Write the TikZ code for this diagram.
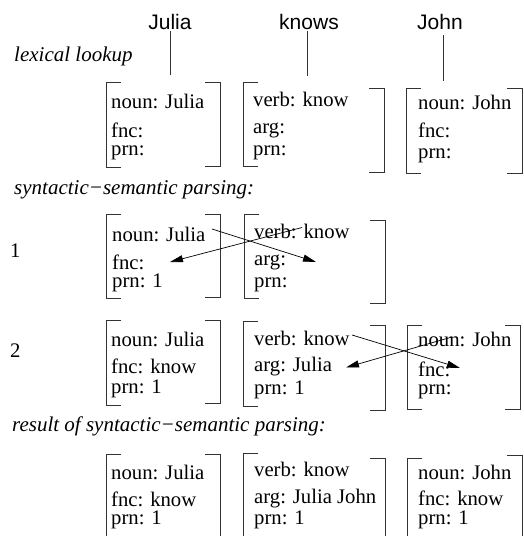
\documentclass[tikz,border=0pt]{standalone}
\usepackage{fontspec}
\setmainfont{Liberation Serif}
\newfontfamily\hvfont{Liberation Sans}
\usetikzlibrary{arrows.meta}
\newcommand{\lbrk}[3]{\draw[brk] (#1+15,#2) -- (#1,#2) -- (#1,#3) -- (#1+15,#3);}
\newcommand{\rbrk}[3]{\draw[brk] (#1-15,#2) -- (#1,#2) -- (#1,#3) -- (#1-15,#3);}
\newcommand{\lbrkopen}[2]{\draw[brk] (#1+15,#2) -- (#1,#2) -- (#1,540);}
\newcommand{\rbrkopen}[2]{\draw[brk] (#1-15,#2) -- (#1,#2) -- (#1,540);}
\begin{document}
\begin{tikzpicture}[x=1pt,y=-1pt,
  brk/.style={draw=black!80,line width=0.8pt},
  txt/.style={anchor=base west,inner sep=0pt,font=\fontsize{20.7}{24}\selectfont},
  lbl/.style={anchor=base west,inner sep=0pt,font=\fontsize{21}{24}\selectfont\itshape},
  word/.style={anchor=base,inner sep=0pt,font=\fontsize{21}{24}\selectfont\hvfont},
  tick/.style={draw=black!80,line width=0.8pt},
  arr/.style={draw=black,line width=0.7pt,-{Triangle[length=13pt,width=7pt]}}]
\useasboundingbox (0,0) rectangle (524,536);
\clip (0,0) rectangle (524,536);

% surface words
\node[word] (wjulia) at (170,29.5) {Julia};
\node[word] (wknows) at (309,29.5) {knows};
\node[word] (wjohn) at (440,29.5) {John};
\coordinate (tjulia) at (170,75);
\coordinate (tknows) at (307,76);
\coordinate (tjohn) at (443,81);
\draw[tick] (170,31) -- (tjulia);
\draw[tick] (307,31) -- (tknows);
\draw[tick] (443,35) -- (tjohn);

% labels
\node[lbl] (llex) at (14,61.5) {lexical lookup};
\node[lbl] (lsyn) at (14,194) {syntactic−semantic parsing:};
\node[lbl] (lres) at (12,431) {result of syntactic−semantic parsing:};
\node[txt] (n1) at (10,257) {1};
\node[txt] (n2) at (10,357) {2};

% ---------- lexical lookup ----------
\lbrk{106}{82}{167}\rbrk{220}{82}{166}
\node[txt] (a1) at (111,108) {noun: Julia};
\node[txt] (a2) at (111,137.5) {fnc:};
\node[txt] (a3) at (111,155) {prn:};
\lbrk{243}{82}{166}\rbrk{384}{88}{172}
\node[txt] (b1) at (253,106) {verb: know};
\node[txt] (b2) at (253,133) {arg:};
\node[txt] (b3) at (253,155) {prn:};
\lbrk{406}{88}{173}\rbrk{522}{88}{173}
\node[txt] (c1) at (418,109) {noun: John};
\node[txt] (c2) at (418,137) {fnc:};
\node[txt] (c3) at (418,158) {prn:};

% ---------- step 1 ----------
\lbrk{106}{214}{298}\rbrk{220}{214}{297}
\node[txt] (d1) at (112,241) {noun: Julia};
\node[txt] (d2) at (112,269) {fnc:};
\node[txt] (d3) at (112,287) {prn: 1};
\lbrk{244}{214}{298}\rbrk{385}{220}{303}
\node[txt] (e1) at (254,238) {verb: know};
\node[txt] (e2) at (254,265.5) {arg:};
\node[txt] (e3) at (254,287) {prn:};
\coordinate (s1a) at (212,229);
\coordinate (s1b) at (316,262);
\coordinate (s1c) at (302,227.5);
\coordinate (s1d) at (170,262);
\draw[arr] (s1a) -- (s1b);
\draw[arr] (s1c) -- (s1d);

% ---------- step 2 ----------
\lbrk{106}{320}{405}\rbrk{220}{320}{403}
\node[txt] (f1) at (111,346) {noun: Julia};
\node[txt] (f2) at (111,373.5) {fnc: know};
\node[txt] (f3) at (111,393) {prn: 1};
\lbrk{243}{321}{406}\rbrk{385}{325}{410}
\node[txt] (g1) at (254,345) {verb: know};
\node[txt] (g2) at (254,371.5) {arg: Julia};
\node[txt] (g3) at (254,394) {prn: 1};
\lbrk{407}{325}{409}\rbrk{520}{325}{409}
\node[txt] (h1) at (418,346) {noun: John};
\node[txt] (h2) at (418,376) {fnc:};
\node[txt] (h3) at (418,394) {prn:};
\coordinate (s2a) at (352,335);
\coordinate (s2b) at (460,368);
\coordinate (s2c) at (452,337);
\coordinate (s2d) at (346,367.5);
\draw[arr] (s2a) -- (s2b);
\draw[arr] (s2c) -- (s2d);

% ---------- result ----------
\lbrkopen{106}{454}\rbrkopen{220}{454}
\node[txt] (i1) at (111,479) {noun: Julia};
\node[txt] (i2) at (111,506) {fnc: know};
\node[txt] (i3) at (111,524.5) {prn: 1};
\lbrkopen{243}{453}\rbrkopen{385}{458}
\node[txt] (j1) at (254,476) {verb: know};
\node[txt] (j2) at (254,503) {arg: Julia John};
\node[txt] (j3) at (254,524.5) {prn: 1};
\lbrkopen{407}{458}\rbrkopen{522}{455}
\node[txt] (k1) at (418,479) {noun: John};
\node[txt] (k2) at (418,505) {fnc: know};
\node[txt] (k3) at (418,524.5) {prn: 1};
\end{tikzpicture}
\end{document}
